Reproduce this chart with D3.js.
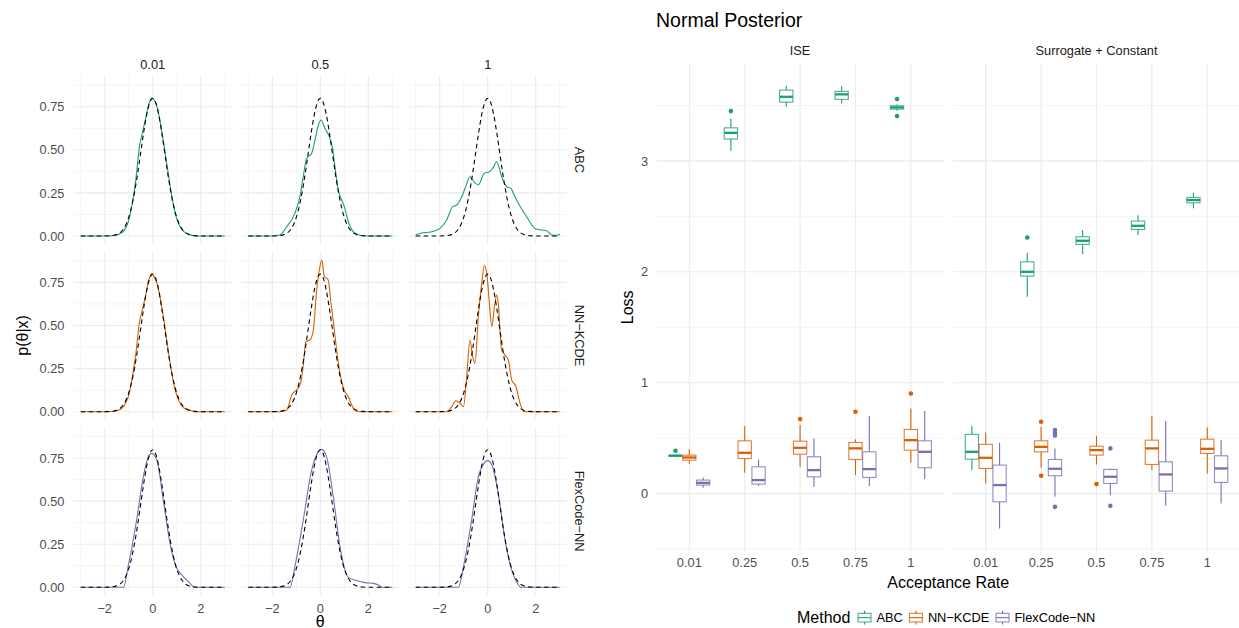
<!DOCTYPE html>
<html>
<head>
<meta charset="utf-8">
<script src="https://cdn.jsdelivr.net/npm/d3@7"></script>
<style>
body { margin: 0; background: #fff; }
svg { display: block; font-family: "Liberation Sans", Arial, Helvetica, sans-serif; }
</style>
</head>
<body>
<script>

// ---- data: posterior densities (theta, p) ----

var rateCols = ["0.01", "0.5", "1"];
var methods = ["ABC", "NN\u2212KCDE", "FlexCode\u2212NN"];
var thetaTicks = [-2, 0, 2];
var densTicks = [0, 0.25, 0.5, 0.75];

// true posterior, dashed in every facet
var trueDens = [[-3,0],[-2.5,0],[-2,0.0003],[-1.75,0.0017],[-1.5,0.0089],[-1.25,0.035],[-1.125,0.0635],
  [-1,0.108],[-0.875,0.173],[-0.75,0.259],[-0.625,0.365],[-0.5,0.484],[-0.375,0.602],[-0.25,0.704],
  [-0.125,0.773],[0,0.798],[0.125,0.773],[0.25,0.704],[0.375,0.602],[0.5,0.484],[0.625,0.365],
  [0.75,0.259],[0.875,0.173],[1,0.108],[1.125,0.0635],[1.25,0.035],[1.5,0.0089],[1.75,0.0017],
  [2,0.0003],[2.5,0],[3,0]];

var abc001 = [[-3,0],[-2,0],[-1.6,0.003],[-1.35,0.015],[-1.2,0.03],[-1,0.09],[-0.85,0.19],[-0.7,0.33],
  [-0.55,0.52],[-0.45,0.585],[-0.3,0.68],[-0.15,0.77],[-0.05,0.8],[0.05,0.79],[0.2,0.74],[0.35,0.63],
  [0.5,0.5],[0.65,0.36],[0.8,0.23],[0.95,0.125],[1.1,0.065],[1.3,0.025],[1.5,0.012],[1.7,0.002],[1.9,0],[3,0]];
var abc05 = [[-3,0],[-2,0],[-1.68,0.006],[-1.4,0.054],[-1.06,0.131],[-0.85,0.228],[-0.71,0.344],[-0.57,0.45],
  [-0.36,0.48],[-0.22,0.557],[-0.08,0.644],[0.03,0.673],[0.19,0.625],[0.375,0.576],[0.51,0.508],[0.61,0.402],
  [0.75,0.267],[0.89,0.209],[1,0.17],[1.17,0.083],[1.375,0.025],[1.65,0.004],[1.93,0],[3,0]];
var abc1 = [[-3,0.006],[-2.82,0.015],[-2.33,0.025],[-1.99,0.044],[-1.71,0.093],[-1.46,0.17],[-1.29,0.18],
  [-1.08,0.228],[-0.92,0.286],[-0.74,0.344],[-0.55,0.31],[-0.39,0.296],[-0.15,0.363],[0.07,0.373],
  [0.2,0.39],[0.375,0.431],[0.58,0.344],[0.79,0.286],[0.97,0.276],[1.07,0.247],[1.28,0.189],[1.625,0.112],
  [1.97,0.044],[2.25,0.035],[2.46,0.031],[2.67,0.006],[2.875,0.004],[3,0.012]];

var nnk001 = [[-3,0],[-2,0],[-1.6,0.003],[-1.35,0.014],[-1.2,0.032],[-1,0.095],[-0.85,0.2],[-0.7,0.34],
  [-0.55,0.52],[-0.45,0.58],[-0.3,0.67],[-0.15,0.77],[-0.05,0.802],[0.05,0.785],[0.2,0.735],[0.35,0.63],
  [0.5,0.5],[0.65,0.35],[0.8,0.22],[0.95,0.12],[1.1,0.06],[1.3,0.022],[1.5,0.013],[1.7,0.002],[1.9,0],[3,0]];
var nnk05 = [[-3,0],[-1.68,0],[-1.4,0.01],[-1.19,0.097],[-0.99,0.126],[-0.82,0.164],[-0.71,0.271],
  [-0.6,0.406],[-0.43,0.416],[-0.29,0.474],[-0.15,0.706],[-0.04,0.822],[0.06,0.88],[0.17,0.783],
  [0.33,0.764],[0.43,0.648],[0.57,0.493],[0.68,0.358],[0.82,0.222],[0.99,0.126],[1.17,0.087],[1.31,0.039],
  [1.49,0.004],[1.65,0],[3,0]];
var nnk1 = [[-3,0],[-1.71,0],[-1.5,0.029],[-1.33,0.064],[-1.15,0.048],[-1.01,0.029],[-0.875,0.203],
  [-0.74,0.416],[-0.625,0.319],[-0.53,0.28],[-0.39,0.551],[-0.25,0.744],[-0.14,0.847],[-0.04,0.802],
  [0.07,0.628],[0.17,0.493],[0.28,0.609],[0.375,0.677],[0.44,0.628],[0.58,0.358],[0.72,0.329],[0.86,0.3],
  [1,0.184],[1.18,0.145],[1.35,0.048],[1.49,0.002],[1.625,0],[3,0]];

var flex001 = [[-3,0],[-1.22,0],[-1.01,0.13],[-0.67,0.39],[-0.39,0.642],[-0.18,0.758],[-0.04,0.777],
  [0.17,0.739],[0.44,0.507],[0.72,0.255],[0.97,0.12],[1.21,0.072],[1.49,0.033],[1.76,0],[3,0]];
var flex05 = [[-3,0],[-1.26,0],[-1.06,0.12],[-0.71,0.39],[-0.36,0.68],[-0.08,0.787],[0.06,0.8],[0.26,0.758],
  [0.54,0.526],[0.82,0.236],[1.03,0.1],[1.17,0.058],[1.51,0.039],[1.86,0.027],[2.21,0.023],[2.42,0.014],
  [2.56,0],[3,0]];
var flex1 = [[-3,0],[-1.22,0],[-1.01,0.12],[-0.67,0.39],[-0.39,0.642],[-0.15,0.719],[-0.01,0.735],
  [0.17,0.71],[0.44,0.545],[0.72,0.275],[1,0.1],[1.24,0.023],[1.375,0],[3,0]];

var densRows = [[abc001, abc05, abc1], [nnk001, nnk05, nnk1], [flex001, flex05, flex1]];

// ---- data: loss boxplots, one row per acceptance rate: [lower whisker, q1, median, q3, upper whisker, outliers] ----

var rateCats = ["0.01", "0.25", "0.5", "0.75", "1"];
var lossTicks = [0, 1, 2, 3];
var lossFacets = ["ISE", "Surrogate + Constant"];

var iseABC = [
  [0.336, 0.338, 0.342, 0.346, 0.348, [0.386]],
  [3.091, 3.197, 3.253, 3.298, 3.383, [3.449]],
  [3.488, 3.53, 3.578, 3.638, 3.677, []],
  [3.518, 3.555, 3.6, 3.627, 3.674, []],
  [3.452, 3.467, 3.482, 3.497, 3.51, [3.557, 3.404]]
];
var iseNN = [
  [0.269, 0.302, 0.326, 0.347, 0.401, []],
  [0.188, 0.317, 0.368, 0.476, 0.609, []],
  [0.242, 0.356, 0.413, 0.473, 0.618, [0.672]],
  [0.167, 0.308, 0.408, 0.461, 0.489, [0.738]],
  [0.278, 0.392, 0.482, 0.579, 0.768, [0.903]]
];
var iseFlex = [
  [0.052, 0.077, 0.097, 0.122, 0.146, []],
  [0.068, 0.086, 0.122, 0.242, 0.308, []],
  [0.061, 0.151, 0.212, 0.332, 0.498, []],
  [0.068, 0.146, 0.221, 0.377, 0.699, []],
  [0.131, 0.233, 0.377, 0.476, 0.744, []]
];
var surABC = [
  [0.212, 0.311, 0.377, 0.534, 0.609, []],
  [1.775, 1.961, 2.0, 2.09, 2.171, [2.31]],
  [2.16, 2.247, 2.28, 2.316, 2.376, []],
  [2.331, 2.382, 2.415, 2.457, 2.511, []],
  [2.572, 2.622, 2.647, 2.671, 2.712, []]
];
var surNN = [
  [0.092, 0.227, 0.323, 0.444, 0.552, []],
  [0.233, 0.377, 0.422, 0.476, 0.602, [0.648, 0.161]],
  [0.263, 0.347, 0.392, 0.428, 0.521, [0.086]],
  [0.212, 0.263, 0.408, 0.482, 0.702, []],
  [0.182, 0.362, 0.404, 0.491, 0.597, []]
];
var surFlex = [
  [-0.314, -0.074, 0.077, 0.257, 0.458, []],
  [-0.029, 0.161, 0.224, 0.308, 0.408, [0.573, 0.548, 0.525, -0.119]],
  [-0.014, 0.092, 0.152, 0.218, 0.227, [0.408, -0.11]],
  [-0.11, 0.023, 0.173, 0.287, 0.654, []],
  [-0.088, 0.101, 0.227, 0.341, 0.482, []]
];

var lossData = [[iseABC, iseNN, iseFlex], [surABC, surNN, surFlex]];

// ---- look ----

var w = 1239, h = 628;
var gridCol = "#EBEBEB", tickCol = "#4D4D4D", stripCol = "#1A1A1A";
var color = d3.scaleOrdinal().domain(methods).range(["#1B9E77", "#D95F02", "#7570B3"]);

var svg = d3.select("body").append("svg").attr("width", w).attr("height", h);

// ================= left: density facets =================

var dLeft = [73.5, 241.1, 408.5], dW = 158.4;
var dTop = [76, 251.7, 427.3], dH = 167.6;

var xTheta = d3.scaleLinear().domain([-3.3, 3.3]).range([0, dW]);
var yDens = d3.scaleLinear().domain([-0.044, 0.928]).range([dH, 0]);

var densLine = d3.line()
  .x(function(d) { return xTheta(d[0]); })
  .y(function(d) { return yDens(d[1]); })
  .curve(d3.curveMonotoneX);

var defs = svg.append("defs");
defs.append("clipPath").attr("id", "clipDens")
  .append("rect").attr("x", 0).attr("y", 0).attr("width", dW).attr("height", dH);

densRows.forEach(function(row, r) {
  row.forEach(function(series, c) {
    var g = svg.append("g").attr("transform", "translate(" + dLeft[c] + "," + dTop[r] + ")");

    // minor grid
    g.selectAll(".vmin").data([-3, -1, 1, 3]).enter().append("line")
      .attr("x1", xTheta).attr("x2", xTheta).attr("y1", 0).attr("y2", dH)
      .attr("stroke", gridCol).attr("stroke-width", 0.55);
    g.selectAll(".hmin").data([0.125, 0.375, 0.625, 0.875]).enter().append("line")
      .attr("y1", yDens).attr("y2", yDens).attr("x1", 0).attr("x2", dW)
      .attr("stroke", gridCol).attr("stroke-width", 0.55);
    // major grid
    g.selectAll(".vmaj").data(thetaTicks).enter().append("line")
      .attr("x1", xTheta).attr("x2", xTheta).attr("y1", 0).attr("y2", dH)
      .attr("stroke", gridCol).attr("stroke-width", 1.1);
    g.selectAll(".hmaj").data(densTicks).enter().append("line")
      .attr("y1", yDens).attr("y2", yDens).attr("x1", 0).attr("x2", dW)
      .attr("stroke", gridCol).attr("stroke-width", 1.1);

    var plot = g.append("g").attr("clip-path", "url(#clipDens)");
    plot.append("path").datum(series)
      .attr("d", densLine).attr("fill", "none")
      .attr("stroke", color(methods[r])).attr("stroke-width", 1.1);
    plot.append("path").datum(trueDens)
      .attr("d", densLine).attr("fill", "none")
      .attr("stroke", "#000").attr("stroke-width", 1.1)
      .attr("stroke-dasharray", "4.5,3.5");

    // y tick labels on the first column
    if (c == 0) {
      g.selectAll(".ylab").data(densTicks).enter().append("text")
        .attr("x", -9).attr("y", yDens).attr("dy", "0.36em")
        .attr("text-anchor", "end").attr("fill", tickCol).style("font-size", "12.8px")
        .text(function(d) { return d3.format(".2f")(d); });
    }
    // x tick labels on the bottom row
    if (r == 2) {
      g.selectAll(".xlab").data(thetaTicks).enter().append("text")
        .attr("x", xTheta).attr("y", dH + 18)
        .attr("text-anchor", "middle").attr("fill", tickCol).style("font-size", "12.8px")
        .text(function(d) { return d < 0 ? "\u2212" + Math.abs(d) : d; });
    }
  });
});

// column strips
rateCols.forEach(function(s, c) {
  svg.append("text").attr("x", dLeft[c] + dW / 2).attr("y", 69)
    .attr("text-anchor", "middle").attr("fill", stripCol).style("font-size", "12.8px").text(s);
});
// row strips, reading top to bottom
methods.forEach(function(m, r) {
  var cx = 579.5, cy = dTop[r] + dH / 2;
  svg.append("text").attr("transform", "translate(" + cx + "," + cy + ") rotate(90)")
    .attr("text-anchor", "middle").attr("dy", "0.36em")
    .attr("fill", stripCol).style("font-size", "12.8px").text(m);
});

svg.append("text").attr("transform", "translate(27.5," + (dTop[0] + (dTop[2] + dH - dTop[0]) / 2) + ") rotate(-90)")
  .attr("text-anchor", "middle").attr("fill", "#000").style("font-size", "16px").text("p(\u03b8|x)");
// the reference crops this title at the bottom edge; keep it just inside
svg.append("text").attr("x", (dLeft[0] + dLeft[2] + dW) / 2).attr("y", 626.5)
  .attr("text-anchor", "middle").attr("fill", "#000").style("font-size", "16px").text("\u03b8");

// ================= right: loss boxplots =================

var bLeft = [656.1, 952.5], bW = 288, bTop = 63.3, bH = 488;

var xRate = d3.scalePoint().domain(rateCats).range([0, bW]).padding(0.6);
var yLoss = d3.scaleLinear().domain([-0.52, 3.88]).range([bH, 0]);
var step = xRate.step();
var dodge = 0.25 * step, halfBox = 0.12 * step;

svg.append("text").attr("x", 656).attr("y", 26.7).attr("fill", "#000")
  .style("font-size", "19.5px").text("Normal Posterior");

lossFacets.forEach(function(facet, f) {
  var g = svg.append("g").attr("transform", "translate(" + bLeft[f] + "," + bTop + ")");

  g.selectAll(".hmin").data([-0.5, 0.5, 1.5, 2.5, 3.5]).enter().append("line")
    .attr("y1", yLoss).attr("y2", yLoss).attr("x1", 0).attr("x2", bW)
    .attr("stroke", gridCol).attr("stroke-width", 0.55);
  g.selectAll(".hmaj").data(lossTicks).enter().append("line")
    .attr("y1", yLoss).attr("y2", yLoss).attr("x1", 0).attr("x2", bW)
    .attr("stroke", gridCol).attr("stroke-width", 1.1);
  g.selectAll(".vmaj").data(rateCats).enter().append("line")
    .attr("x1", xRate).attr("x2", xRate).attr("y1", 0).attr("y2", bH)
    .attr("stroke", gridCol).attr("stroke-width", 1.1);

  lossData[f].forEach(function(rows, m) {
    var col = color(methods[m]);
    var boxes = g.selectAll(".box" + m).data(rows).enter().append("g")
      .attr("transform", function(d, i) { return "translate(" + (xRate(rateCats[i]) + (m - 1) * dodge) + ",0)"; });

    boxes.append("line").attr("x1", 0).attr("x2", 0)
      .attr("y1", function(d) { return yLoss(d[0]); }).attr("y2", function(d) { return yLoss(d[1]); })
      .attr("stroke", col).attr("stroke-width", 1.1);
    boxes.append("line").attr("x1", 0).attr("x2", 0)
      .attr("y1", function(d) { return yLoss(d[3]); }).attr("y2", function(d) { return yLoss(d[4]); })
      .attr("stroke", col).attr("stroke-width", 1.1);
    boxes.append("rect")
      .attr("x", -halfBox).attr("width", 2 * halfBox)
      .attr("y", function(d) { return yLoss(d[3]); })
      .attr("height", function(d) { return Math.max(0.5, yLoss(d[1]) - yLoss(d[3])); })
      .attr("fill", "#fff").attr("stroke", col).attr("stroke-width", 1.1).attr("stroke-opacity", 0.8);
    boxes.append("line").attr("x1", -halfBox).attr("x2", halfBox)
      .attr("y1", function(d) { return yLoss(d[2]); }).attr("y2", function(d) { return yLoss(d[2]); })
      .attr("stroke", col).attr("stroke-width", 2.3);
    boxes.selectAll("circle").data(function(d) { return d[5]; }).enter().append("circle")
      .attr("cx", 0).attr("cy", yLoss).attr("r", 2.3).attr("fill", col);
  });

  g.selectAll(".xlab").data(rateCats).enter().append("text")
    .attr("x", xRate).attr("y", bH + 16)
    .attr("text-anchor", "middle").attr("fill", tickCol).style("font-size", "12.8px")
    .text(function(d) { return d; });

  if (f == 0) {
    g.selectAll(".ylab").data(lossTicks).enter().append("text")
      .attr("x", -8).attr("y", yLoss).attr("dy", "0.36em")
      .attr("text-anchor", "end").attr("fill", tickCol).style("font-size", "12.8px")
      .text(function(d) { return d; });
  }

  g.append("text").attr("x", bW / 2).attr("y", -8.3)
    .attr("text-anchor", "middle").attr("fill", stripCol).style("font-size", "12.8px").text(facet);
});

svg.append("text").attr("transform", "translate(633," + (bTop + bH / 2) + ") rotate(-90)")
  .attr("text-anchor", "middle").attr("fill", "#000").style("font-size", "16px").text("Loss");
svg.append("text").attr("x", (bLeft[0] + bLeft[1] + bW) / 2).attr("y", 588)
  .attr("text-anchor", "middle").attr("fill", "#000").style("font-size", "16px").text("Acceptance Rate");

// ---- legend ----

var legend = svg.append("g").attr("class", "legend");
var lx = 797, base = 623.3, key = 17.3, keyTop = 609;
var title = legend.append("text").attr("x", lx).attr("y", base).attr("fill", "#000")
  .style("font-size", "16px").text("Method");
lx += title.node().getComputedTextLength() + 5.5;

methods.forEach(function(m) {
  var col = color(m);
  var k = legend.append("g").attr("transform", "translate(" + lx + "," + keyTop + ")");
  k.append("line").attr("x1", key / 2).attr("x2", key / 2).attr("y1", key * 0.1).attr("y2", key * 0.9)
    .attr("stroke", col).attr("stroke-width", 1.1);
  k.append("rect").attr("x", key * 0.125).attr("y", key * 0.25).attr("width", key * 0.75).attr("height", key * 0.5)
    .attr("fill", "#fff").attr("stroke", col).attr("stroke-width", 1.1).attr("stroke-opacity", 0.8);
  k.append("line").attr("x1", key * 0.125).attr("x2", key * 0.875).attr("y1", key / 2).attr("y2", key / 2)
    .attr("stroke", col).attr("stroke-width", 1.1);
  var t = legend.append("text").attr("x", lx + key + 3.3).attr("y", base - 1)
    .attr("fill", "#000").style("font-size", "12.8px").text(m);
  lx += key + 3.3 + t.node().getComputedTextLength() + 4.5;
});

</script>
</body>
</html>
